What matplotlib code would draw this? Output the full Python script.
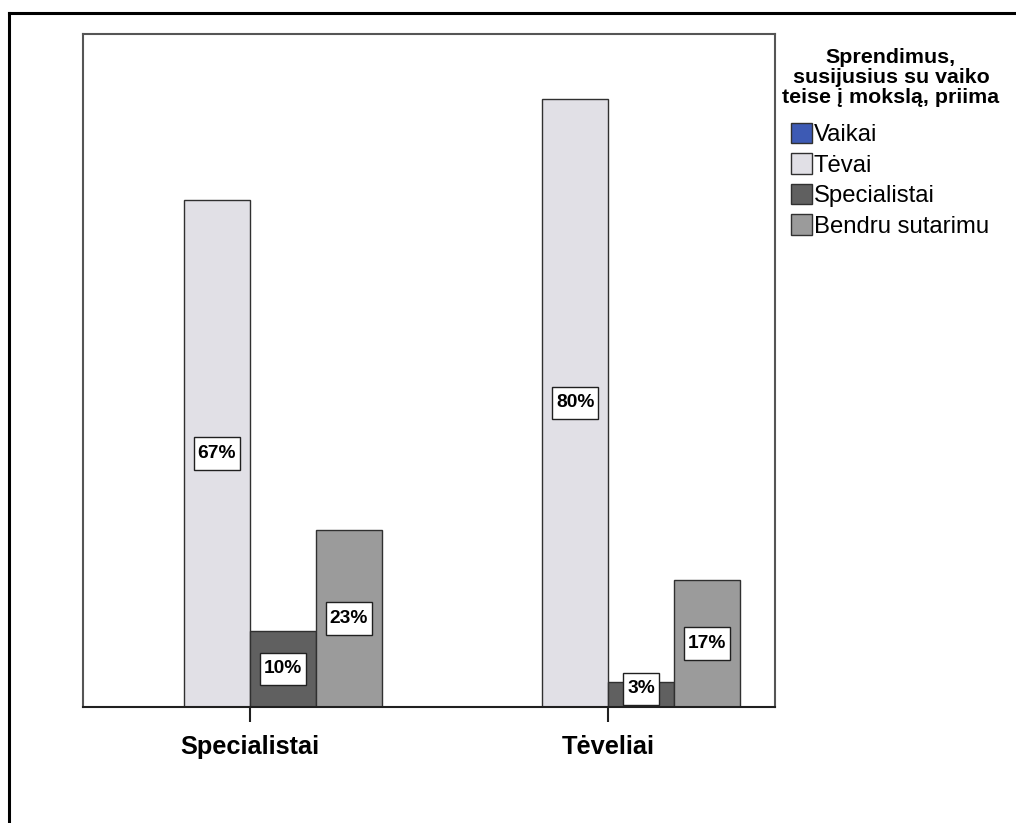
import matplotlib as mpl
import matplotlib.pyplot as plt
from matplotlib.patches import Patch
from matplotlib.lines import Line2D
from matplotlib.path import Path
import numpy as np

mpl.rcParams.update({
    "font.family": ["Liberation Sans", "DejaVu Sans"],
})

# data (percent of respondents in each group)
groups = ["Specialistai", "Tėveliai"]
series = ["Vaikai", "Tėvai", "Specialistai", "Bendru sutarimu"]
values = [
    [0.0, 0.0],      # Vaikai
    [66.7, 80.0],    # Tėvai
    [10.0, 3.3],     # Specialistai
    [23.3, 16.7],    # Bendru sutarimu
]
colors = ["#3D5AB4", "#E1E0E6", "#606060", "#9B9B9B"]
legend_title = "Sprendimus,\nsusijusius su vaiko\nteise į mokslą, priima"


def label_box(x0, y0, width, height, mutation_size):
    # rectangle with more room above/below the text than at the sides
    px, py = 0.2 * mutation_size, 0.4 * mutation_size
    return Path([(x0 - px, y0 - py), (x0 + width + px, y0 - py),
                 (x0 + width + px, y0 + height + py), (x0 - px, y0 + height + py),
                 (x0 - px, y0 - py)], closed=True)


W, H = 1016, 823
fig = plt.figure(figsize=(W / 100, H / 100), dpi=100)
ax = fig.add_axes([83 / W, 1 - 707 / H, 692 / W, 673 / H])

x = np.arange(len(groups))
bw = 0.184
for i, (name, vals) in enumerate(zip(series, values)):
    pos = x + (i - 1.5) * bw
    ax.bar(pos, vals, width=bw, color=colors[i], edgecolor="#303030",
           linewidth=1.0, zorder=2)
    for px, v in zip(pos, vals):
        if v <= 0:
            continue
        ax.text(px, max(v / 2, 2.4), f"{v:.0f}%", ha="center", va="center",
                fontsize=13.8, fontweight="bold", zorder=4,
                bbox=dict(boxstyle=label_box, facecolor="white",
                          edgecolor="#202020", linewidth=1.0))

ax.set_xlim(-0.466, 1.466)
ax.set_ylim(0, 88.55)
ax.set_yticks([])
ax.set_xticks(x)
ax.set_xticklabels(groups, fontsize=18.3, fontweight="bold")
ax.tick_params(axis="x", length=11, width=1.5, color="#202020", pad=9)
for s in ["left", "top", "right"]:
    ax.spines[s].set_color("#555555")
    ax.spines[s].set_linewidth(1.5)
ax.spines["bottom"].set_color("#202020")
ax.spines["bottom"].set_linewidth(1.5)

# legend title and entries
fig.text(891 / W, 1 - 48 / H, legend_title, ha="center", va="top",
         fontsize=15.4, fontweight="bold", linespacing=1.06)
handles = [Patch(facecolor=c, edgecolor="#303030", linewidth=1.0) for c in colors]
fig.legend(handles, series, loc="upper left",
           bbox_to_anchor=(791 / W, 1 - 123 / H),
           frameon=False, fontsize=17.2,
           handlelength=0.88, handleheight=0.92, handletextpad=0.08,
           labelspacing=0.3, borderpad=0, borderaxespad=0)

# outer border (left and top visible)
fig.add_artist(Line2D([8.5 / W, 8.5 / W], [-0.01, 1 - 13 / H], color="black",
                      linewidth=2.2, transform=fig.transFigure))
fig.add_artist(Line2D([8.5 / W, 1.01], [1 - 13 / H, 1 - 13 / H], color="black",
                      linewidth=2.2, transform=fig.transFigure))

fig.savefig("out.png", dpi=100)
